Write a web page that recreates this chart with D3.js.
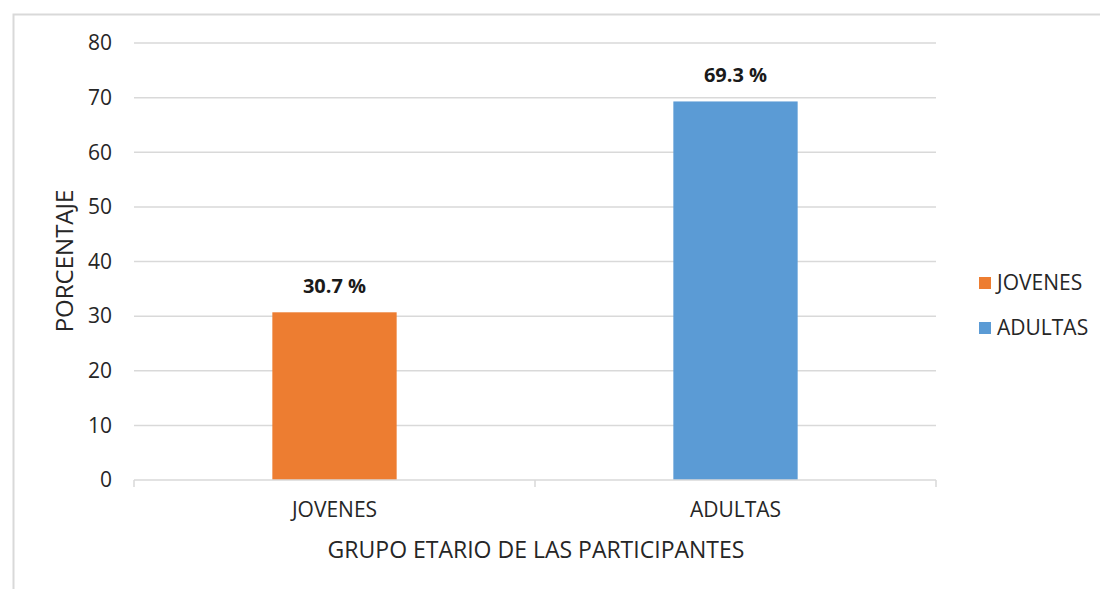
<!DOCTYPE html>
<html>
<head>
<meta charset="utf-8">
<script src="https://cdn.jsdelivr.net/npm/d3@7"></script>
<style>
  body { margin: 0; background: #fff; }
  text { font-family: "Open Sans", "Liberation Sans", sans-serif; fill: #262626; }
</style>
</head>
<body>
<div id="chart"></div>
<script>
const width = 1100;
const height = 589;

const categories = ["JOVENES", "ADULTAS"];
const values = [30.7, 69.3];
const colors = ["#ED7D31", "#5B9BD5"];
const yTicks = [0, 10, 20, 30, 40, 50, 60, 70, 80];

const svg = d3.select("#chart")
    .append("svg")
    .attr("width", width)
    .attr("height", height);

// chart frame
svg.append("rect")
    .attr("x", 13.5)
    .attr("y", 14.5)
    .attr("width", width + 20)
    .attr("height", height + 20)
    .attr("fill", "none")
    .attr("stroke", "#d9d9d9")
    .attr("stroke-width", 2);

const x = d3.scaleBand()
    .domain(categories)
    .range([134, 936]);
const barW = x.bandwidth() * 0.31;

const y = d3.scaleLinear()
    .domain([0, 80])
    .range([480, 43]);

// gridlines
svg.append("g")
    .selectAll("line")
    .data(yTicks.filter(d => d > 0))
    .enter().append("line")
    .attr("x1", 134)
    .attr("x2", 936)
    .attr("y1", d => y(d))
    .attr("y2", d => y(d))
    .attr("stroke", "#d9d9d9")
    .attr("stroke-width", 1.5);

// y tick labels
svg.append("g")
    .selectAll("text")
    .data(yTicks)
    .enter().append("text")
    .attr("x", 112)
    .attr("y", d => y(d))
    .attr("dy", "0.35em")
    .attr("text-anchor", "end")
    .attr("font-size", "21px")
    .text(d => d);

// bars
svg.append("g")
    .selectAll("rect")
    .data(categories)
    .enter().append("rect")
    .attr("x", d => x(d) + (x.bandwidth() - barW) / 2)
    .attr("y", (d, i) => y(values[i]))
    .attr("width", barW)
    .attr("height", (d, i) => y(0) - y(values[i]))
    .attr("fill", (d, i) => colors[i]);

// x axis line and ticks
const xAxis = svg.append("g");
xAxis.append("line")
    .attr("x1", 134).attr("x2", 936)
    .attr("y1", y(0)).attr("y2", y(0))
    .attr("stroke", "#d9d9d9")
    .attr("stroke-width", 1.5);
xAxis.selectAll(".tick")
    .data(categories.map(d => x(d)).concat([x.range()[1]]))
    .enter().append("line")
    .attr("class", "tick")
    .attr("x1", d => d)
    .attr("x2", d => d)
    .attr("y1", y(0))
    .attr("y2", y(0) + 7)
    .attr("stroke", "#d9d9d9")
    .attr("stroke-width", 1.5);

// category labels
svg.append("g")
    .selectAll("text")
    .data(categories)
    .enter().append("text")
    .attr("x", d => x(d) + x.bandwidth() / 2)
    .attr("y", 510)
    .attr("dy", "0.35em")
    .attr("text-anchor", "middle")
    .attr("font-size", "21px")
    .text(d => d);

// data labels
svg.append("g")
    .selectAll("text")
    .data(categories)
    .enter().append("text")
    .attr("x", d => x(d) + x.bandwidth() / 2)
    .attr("y", (d, i) => y(values[i]) - 26)
    .attr("dy", "0.35em")
    .attr("text-anchor", "middle")
    .attr("font-size", "20px")
    .attr("font-weight", "bold")
    .style("fill", "#1a1a1a")
    .text((d, i) => d3.format(".1f")(values[i]) + " %");

// axis titles
svg.append("text")
    .attr("x", 536)
    .attr("y", 550)
    .attr("dy", "0.35em")
    .attr("text-anchor", "middle")
    .attr("font-size", "23px")
    .text("GRUPO ETARIO DE LAS PARTICIPANTES");

svg.append("text")
    .attr("transform", "translate(65, 261) rotate(-90)")
    .attr("dy", "0.35em")
    .attr("text-anchor", "middle")
    .attr("font-size", "24px")
    .text("PORCENTAJE");

// legend
const legend = svg.append("g")
    .selectAll("g")
    .data(categories)
    .enter().append("g")
    .attr("transform", (d, i) => `translate(979, ${283 + i * 45})`);
legend.append("rect")
    .attr("x", 0)
    .attr("y", -6)
    .attr("width", 12)
    .attr("height", 12)
    .attr("fill", (d, i) => colors[i]);
legend.append("text")
    .attr("x", 18)
    .attr("y", 0)
    .attr("dy", "0.35em")
    .attr("font-size", "21px")
    .text(d => d);
</script>
</body>
</html>
